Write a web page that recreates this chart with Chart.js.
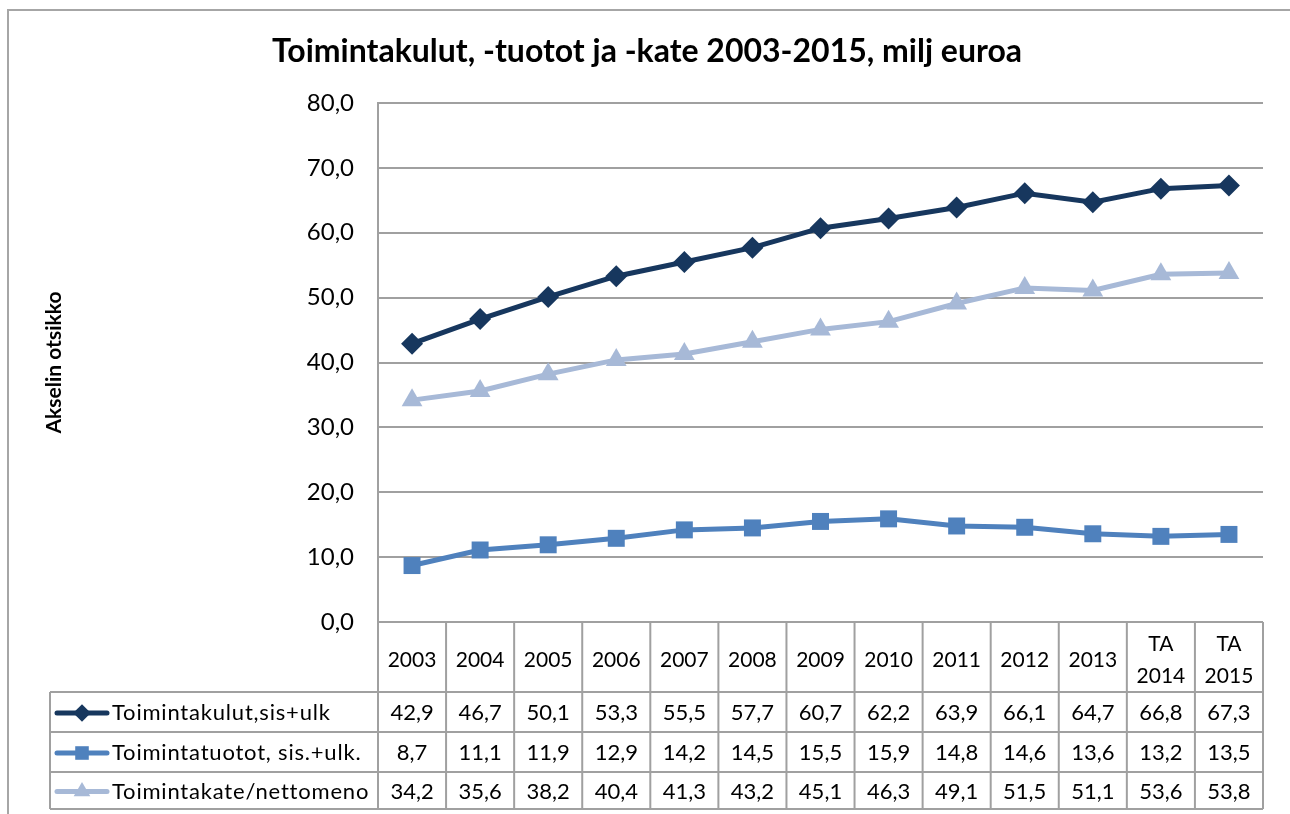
<!DOCTYPE html>
<html lang="fi">
<head>
<meta charset="UTF-8">
<title>Toimintakulut, -tuotot ja -kate 2003-2015</title>
<script src="https://cdn.jsdelivr.net/npm/chart.js"></script>
<style>
  html, body { margin: 0; padding: 0; background: #fff; }
  .wrap { width: 1290px; height: 814px; }
</style>
</head>
<body>
<div class="wrap"><canvas id="c" width="1290" height="814"></canvas></div>
<script>
// data
const years = ['2003', '2004', '2005', '2006', '2007', '2008', '2009', '2010', '2011', '2012', '2013', ['TA', '2014'], ['TA', '2015']];
const kulut = [42.9, 46.7, 50.1, 53.3, 55.5, 57.7, 60.7, 62.2, 63.9, 66.1, 64.7, 66.8, 67.3];
const tuotot = [8.7, 11.1, 11.9, 12.9, 14.2, 14.5, 15.5, 15.9, 14.8, 14.6, 13.6, 13.2, 13.5];
const kate = [34.2, 35.6, 38.2, 40.4, 41.3, 43.2, 45.1, 46.3, 49.1, 51.5, 51.1, 53.6, 53.8];
const seriesNames = ['Toimintakulut,sis+ulk', 'Toimintatuotot, sis.+ulk.', 'Toimintakate/nettomeno'];

const FONT = 'Lato, "Open Sans", sans-serif';
const GRID = '#a0a0a0';
const fmt = v => v.toFixed(1).replace('.', ',');

// draws the title, outer frame and the data table below the plot
const tablePlugin = {
  id: 'dataTable',
  afterDraw(chart) {
    const ctx = chart.ctx;
    const x = chart.scales.x;
    const area = chart.chartArea;
    const step = x.getPixelForValue(1) - x.getPixelForValue(0);
    const legLeft = 50;
    const rows = [area.bottom, 692, 732, 772, 809];

    ctx.save();
    // outer frame
    ctx.strokeStyle = '#a6a6a6';
    ctx.lineWidth = 2;
    ctx.strokeRect(8, 10, 1400, 900);

    // title
    ctx.fillStyle = '#000';
    ctx.font = 'bold 32px ' + FONT;
    ctx.textAlign = 'center';
    ctx.textBaseline = 'middle';
    ctx.fillText('Toimintakulut, -tuotot ja -kate 2003-2015, milj euroa', 647, 52);

    // table lines
    ctx.strokeStyle = GRID;
    ctx.lineWidth = 2;
    ctx.beginPath();
    for (let r = 1; r < rows.length; r++) {
      ctx.moveTo(legLeft, rows[r]);
      ctx.lineTo(area.right, rows[r]);
    }
    ctx.moveTo(legLeft, rows[1]);
    ctx.lineTo(legLeft, rows[4]);
    for (let i = 0; i <= years.length; i++) {
      const px = x.getPixelForValue(0) - step / 2 + i * step;
      ctx.moveTo(px, rows[0]);
      ctx.lineTo(px, rows[4]);
    }
    ctx.stroke();

    // header
    ctx.font = '21px ' + FONT;
    ctx.fillStyle = '#000';
    years.forEach((y, i) => {
      const cx = x.getPixelForValue(i);
      if (Array.isArray(y)) {
        ctx.fillText(y[0], cx, 644);
        ctx.fillText(y[1], cx, 676);
      } else {
        ctx.fillText(y, cx, 660);
      }
    });

    // rows
    chart.data.datasets.forEach((ds, r) => {
      const cy = (rows[r + 1] + rows[r + 2]) / 2 + 1;
      // legend key
      ctx.strokeStyle = ds.borderColor;
      ctx.lineWidth = 5;
      ctx.lineCap = 'round';
      ctx.beginPath();
      ctx.moveTo(57, cy);
      ctx.lineTo(107, cy);
      ctx.stroke();
      ctx.fillStyle = ds.backgroundColor;
      Chart.helpers.drawPoint(ctx, { pointStyle: ds.pointStyle, radius: ds.pointRadius * 0.8, borderWidth: 0 }, 82, cy);
      ctx.fillStyle = '#000';
      ctx.font = '22px ' + FONT;
      ctx.textAlign = 'left';
      ctx.letterSpacing = '0.8px';
      ctx.fillText(ds.label, 112, cy);
      ctx.letterSpacing = '0px';
      ctx.textAlign = 'center';
      ds.data.forEach((v, i) => ctx.fillText(fmt(v), x.getPixelForValue(i), cy));
    });
    ctx.restore();
  }
};

const line = (label, data, color, style, radius) => ({
  label, data,
  borderColor: color,
  backgroundColor: color,
  borderWidth: 5,
  pointStyle: style,
  pointRadius: radius,
  pointBorderWidth: 0,
  pointHoverRadius: radius,
  tension: 0
});

new Chart(document.getElementById('c'), {
  type: 'line',
  data: {
    labels: years,
    datasets: [
      line(seriesNames[0], kulut, '#17375e', 'rectRot', 11),
      line(seriesNames[1], tuotot, '#4f81bd', 'rect', 12),
      line(seriesNames[2], kate, '#a7b9d7', 'triangle', 12)
    ]
  },
  options: {
    responsive: false,
    animation: false,
    layout: { padding: { top: 103, bottom: 192, right: 27, left: 0 } },
    plugins: { legend: { display: false }, title: { display: false }, tooltip: { enabled: false } },
    scales: {
      x: { display: false, offset: true },
      y: {
        min: 0, max: 80,
        ticks: { stepSize: 10, padding: 24, color: '#000', font: { family: FONT, size: 24 }, callback: v => fmt(v) },
        grid: { color: GRID, lineWidth: 2, drawTicks: false },
        border: { color: GRID, width: 2 },
        title: { display: true, text: 'Akselin otsikko', color: '#000', font: { family: FONT, size: 21, weight: 'bold' }, padding: { top: 42, bottom: 0 } },
        afterFit(scale) { scale.width = 378; }
      }
    }
  },
  plugins: [tablePlugin]
});
</script>
</body>
</html>
